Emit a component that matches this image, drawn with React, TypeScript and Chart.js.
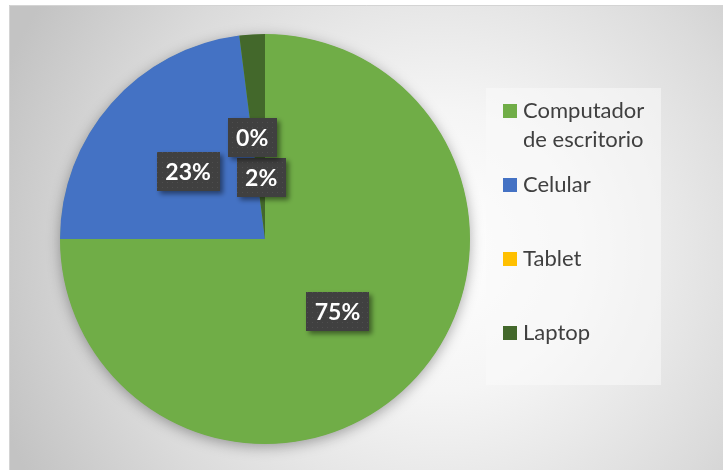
import React, { useEffect, useRef } from "react";
import { Chart, registerables } from "chart.js";

Chart.register(...registerables);

const categories = ["Computador de escritorio", "Celular", "Tablet", "Laptop"];
const values = [75, 23, 0, 2];
const pctLabels = ["75%", "23%", "0%", "2%"];
const sliceColors = ["#70ad47", "#4472c4", "#ffc000", "#43682b"];
const labelRadius = [0.5, 0.5, 0.5, 0.3];

const FONT = "Lato, 'Noto Sans', sans-serif";

const bgPlugin = {
  id: "bgPlugin",
  beforeDraw(chart: any) {
    const { ctx, width, height } = chart;
    ctx.save();
    ctx.fillStyle = "#ffffff";
    ctx.fillRect(0, 0, width, height);
    const x0 = 9, y0 = 5;
    const g = ctx.createRadialGradient(440, 250, 0, 440, 250, 470);
    g.addColorStop(0, "#ffffff");
    g.addColorStop(0.3, "#f5f5f5");
    g.addColorStop(0.7, "#dbdbdb");
    g.addColorStop(1, "#c3c3c3");
    ctx.fillStyle = g;
    ctx.fillRect(x0, y0, width - x0, height - y0);
    ctx.strokeStyle = "#d4d4d4";
    ctx.lineWidth = 1;
    ctx.beginPath();
    ctx.moveTo(x0 + 0.5, height);
    ctx.lineTo(x0 + 0.5, y0 + 0.5);
    ctx.lineTo(width, y0 + 0.5);
    ctx.stroke();

    // legend box
    ctx.fillStyle = "rgba(250,250,250,0.55)";
    ctx.fillRect(486, 88, 175, 297);
    ctx.restore();
  },
  beforeDatasetsDraw(chart: any) {
    const meta = chart.getDatasetMeta(0);
    const arc = meta.data[0];
    if (!arc) return;
    const { ctx } = chart;
    const p = arc.getProps(["x", "y", "outerRadius"], true);
    ctx.save();
    ctx.shadowColor = "rgba(0,0,0,0.35)";
    ctx.shadowBlur = 14;
    ctx.shadowOffsetX = 0;
    ctx.shadowOffsetY = 3;
    ctx.fillStyle = sliceColors[0];
    ctx.beginPath();
    ctx.arc(p.x, p.y, p.outerRadius - 0.5, 0, Math.PI * 2);
    ctx.fill();
    ctx.restore();
  },
  afterDatasetsDraw(chart: any) {
    const { ctx } = chart;
    const meta = chart.getDatasetMeta(0);
    const pc = document.createElement("canvas");
    pc.width = 5;
    pc.height = 5;
    const pctx = pc.getContext("2d")!;
    pctx.fillStyle = "#404040";
    pctx.fillRect(0, 0, 5, 5);
    pctx.fillStyle = "#4e4e4e";
    pctx.fillRect(2, 2, 1, 1);
    const pattern = ctx.createPattern(pc, "repeat");

    const order = [0, 1, 3, 2];
    order.forEach((i) => {
      const el = meta.data[i];
      const p = el.getProps(["x", "y", "startAngle", "endAngle", "outerRadius"], true);
      const mid = (p.startAngle + p.endAngle) / 2;
      const r = p.outerRadius * labelRadius[i];
      const cx = p.x + Math.cos(mid) * r;
      const cy = p.y + Math.sin(mid) * r;
      ctx.save();
      ctx.font = `bold 23px ${FONT}`;
      const tw = ctx.measureText(pctLabels[i]).width;
      const bw = tw + 17;
      const bh = 39;
      ctx.shadowColor = "rgba(0,0,0,0.45)";
      ctx.shadowBlur = 5;
      ctx.shadowOffsetX = 3;
      ctx.shadowOffsetY = 3;
      ctx.fillStyle = pattern || "#404040";
      ctx.fillRect(Math.round(cx - bw / 2), Math.round(cy - bh / 2), Math.round(bw), bh);
      ctx.shadowColor = "transparent";
      ctx.fillStyle = "#ffffff";
      ctx.textAlign = "center";
      ctx.textBaseline = "middle";
      ctx.fillText(pctLabels[i], cx, cy + 1);
      ctx.restore();
    });
  },
  afterDraw(chart: any) {
    const { ctx } = chart;
    ctx.save();
    ctx.font = `22px ${FONT}`;
    ctx.textBaseline = "middle";
    ctx.textAlign = "left";
    const itemY = [111, 185, 259, 333];
    categories.forEach((c, i) => {
      ctx.fillStyle = sliceColors[i];
      ctx.fillRect(503, itemY[i] - 7, 14, 14);
      ctx.fillStyle = "#404040";
      const words = c.split(" ");
      const lines: string[] = [];
      let cur = "";
      words.forEach((w) => {
        const t = cur ? cur + " " + w : w;
        if (ctx.measureText(t).width > 134 && cur) {
          lines.push(cur);
          cur = w;
        } else cur = t;
      });
      if (cur) lines.push(cur);
      lines.forEach((l, k) => {
        ctx.fillText(l, 523, itemY[i] + k * 29);
      });
    });
    ctx.restore();
  },
};

export default function App() {
  const ref = useRef<HTMLCanvasElement>(null);
  useEffect(() => {
    if (!ref.current) return;
    const chart = new Chart(ref.current, {
      type: "pie",
      data: {
        labels: categories,
        datasets: [
          {
            data: values,
            backgroundColor: sliceColors,
            borderWidth: 0,
          },
        ],
      },
      options: {
        responsive: false,
        animation: false,
        layout: { padding: { left: 60, right: 253, top: 34, bottom: 26 } },
        plugins: {
          legend: { display: false },
          tooltip: { enabled: false },
        },
      },
      plugins: [bgPlugin],
    });
    return () => chart.destroy();
  }, []);
  return (
    <div style={{ position: "fixed", left: 0, top: 0, width: 723, height: 470 }}>
      <canvas ref={ref} width={723} height={470} style={{ width: 723, height: 470, display: "block" }} />
    </div>
  );
}
